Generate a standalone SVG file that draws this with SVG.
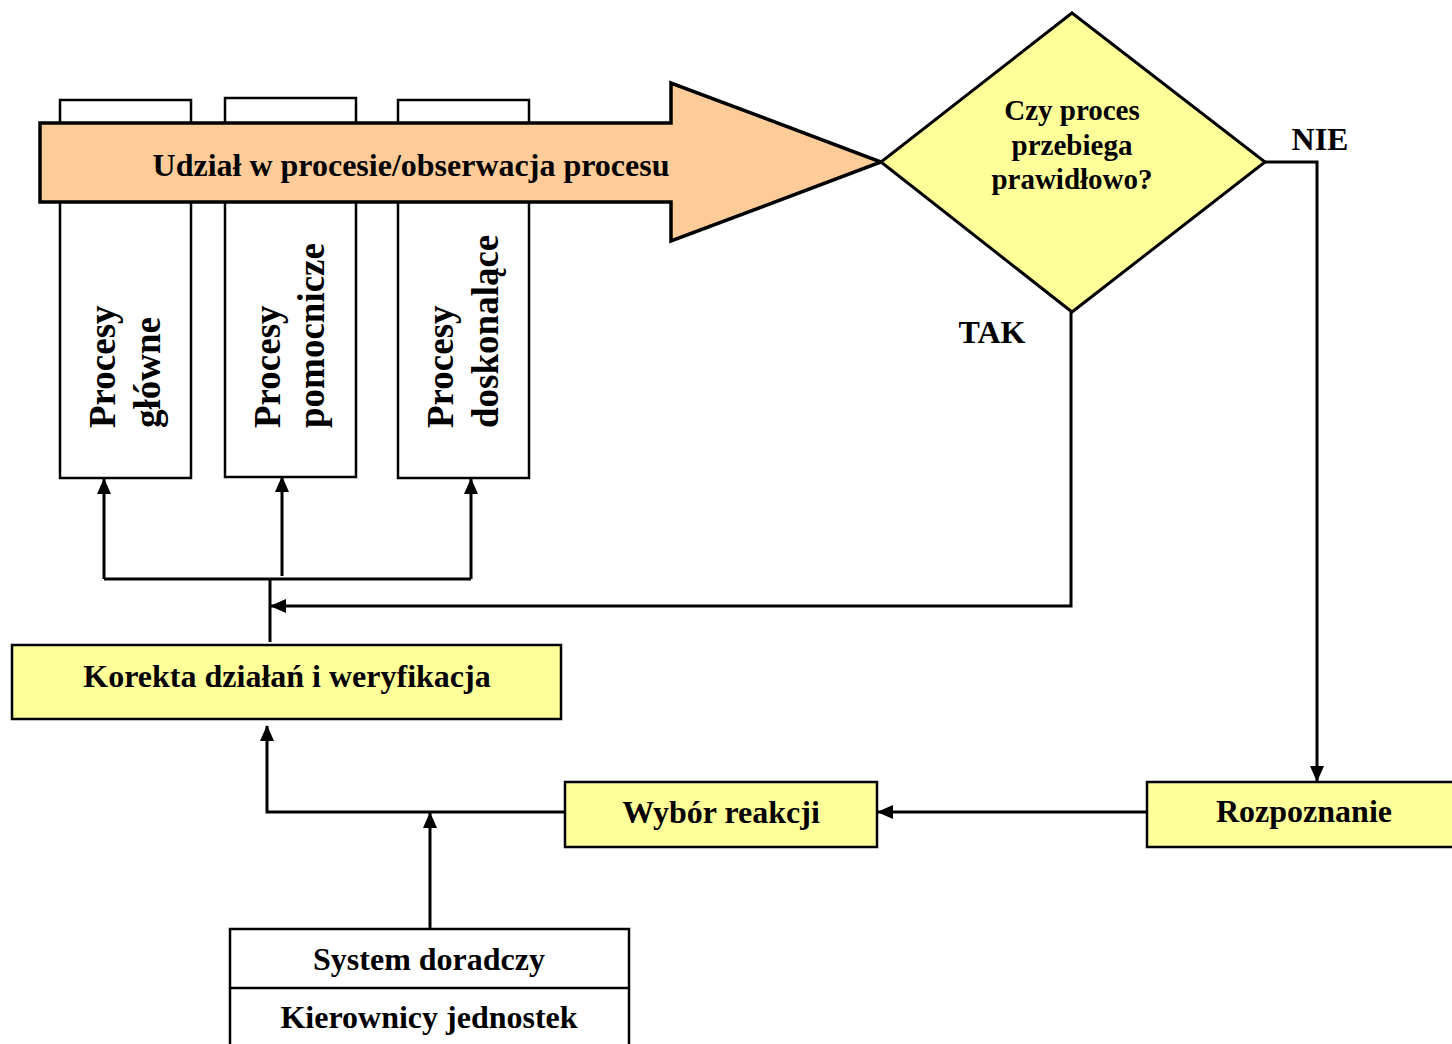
<svg xmlns="http://www.w3.org/2000/svg" width="1452" height="1044" viewBox="0 0 1452 1044">
<style>
text{font-family:"Liberation Serif","Times New Roman",serif;font-weight:bold;fill:#000}
.h{font-size:32px;text-anchor:middle}
.d{font-size:29px;text-anchor:middle}
.v{font-size:37px}
.box{fill:#fff;stroke:#000;stroke-width:2.5}
.yel{fill:#ffff99;stroke:#000;stroke-width:2.5}
.con{fill:none;stroke:#000;stroke-width:3}
</style>
<defs>
<marker id="ah" markerUnits="userSpaceOnUse" markerWidth="16" markerHeight="14" viewBox="0 0 16 14" refX="15" refY="7" orient="auto">
<path d="M0,0 L16,7 L0,14 z" fill="#000"/>
</marker>
</defs>
<rect width="1452" height="1044" fill="#fff"/>
<g id="box-glowne">
<rect class="box" x="60" y="100" width="131" height="378"/>
<text class="v" transform="translate(115,428) rotate(-90)">Procesy</text>
<text class="v" transform="translate(160,428) rotate(-90)">główne</text>
</g>
<g id="box-pomocnicze">
<rect class="box" x="225" y="98" width="131" height="379"/>
<text class="v" transform="translate(280,428) rotate(-90)">Procesy</text>
<text class="v" transform="translate(324,428) rotate(-90)">pomocnicze</text>
</g>
<g id="box-doskonalace">
<rect class="box" x="398" y="100" width="131" height="378"/>
<text class="v" transform="translate(453,428) rotate(-90)">Procesy</text>
<text class="v" transform="translate(498,428) rotate(-90)">doskonalące</text>
</g>
<g id="arrow-udzial">
<path d="M40,123 H671 V83 L881,162 L671,241 V202 H40 Z" fill="#ffcc99" stroke="#000" stroke-width="3.5" stroke-linejoin="miter"/>
<text class="h" x="411" y="176">Udział w procesie/obserwacja procesu</text>
</g>
<g id="decision">
<path d="M1072,13 L1265,162 L1072,312 L881,162 Z" fill="#ffff99" stroke="#000" stroke-width="3"/>
<text class="d" x="1072" y="120">Czy proces</text>
<text class="d" x="1072" y="155">przebiega</text>
<text class="d" x="1072" y="189">prawidłowo?</text>
</g>
<g id="korekta">
<rect class="yel" x="12" y="645" width="549" height="74"/>
<text class="h" x="287" y="687">Korekta działań i weryfikacja</text>
</g>
<g id="wybor">
<rect class="yel" x="565" y="782" width="312" height="65"/>
<text class="h" x="721" y="823">Wybór reakcji</text>
</g>
<g id="rozpoznanie">
<rect class="yel" x="1147" y="782" width="320" height="65"/>
<text class="h" x="1304" y="822">Rozpoznanie</text>
</g>
<g id="system">
<rect class="box" x="230" y="929" width="399" height="130"/>
<line x1="230" y1="988" x2="629" y2="988" stroke="#000" stroke-width="2.5"/>
<text class="h" x="429" y="970">System doradczy</text>
<text class="h" x="429" y="1028">Kierownicy jednostek</text>
</g>
<g id="labels">
<text class="h" x="1320" y="150">NIE</text>
<text class="h" x="992" y="343">TAK</text>
</g>
<g id="connectors">
<path class="con" d="M104,579 H471"/>
<path class="con" d="M104,579 V479" marker-end="url(#ah)"/>
<path class="con" d="M282,576 V477" marker-end="url(#ah)"/>
<path class="con" d="M471,579 V479" marker-end="url(#ah)"/>
<path class="con" d="M270,579 V642"/>
<path class="con" d="M1071,312 V606 H271" marker-end="url(#ah)"/>
<path class="con" d="M1265,162 H1317 V781" marker-end="url(#ah)"/>
<path class="con" d="M1147,812 H878" marker-end="url(#ah)"/>
<path class="con" d="M565,812 H267 V726" marker-end="url(#ah)"/>
<path class="con" d="M430,929 V813" marker-end="url(#ah)"/>
</g>
</svg>
